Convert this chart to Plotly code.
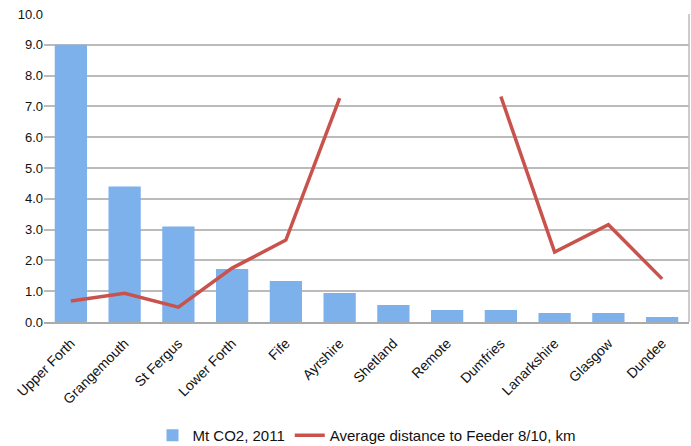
import plotly.graph_objects as go

categories = ["Upper Forth", "Grangemouth", "St Fergus", "Lower Forth", "Fife", "Ayrshire",
              "Shetland", "Remote", "Dumfries", "Lanarkshire", "Glasgow", "Dundee"]
co2_mt = [9.0, 4.4, 3.1, 1.72, 1.33, 0.94, 0.55, 0.39, 0.39, 0.29, 0.29, 0.16]
avg_distance = [0.68, 0.93, 0.48, 1.75, 2.66, 7.27, None, None, 7.32, 2.27, 3.16, 1.4]
y_ticks = [0, 1, 2, 3, 4, 5, 6, 7, 8, 9, 10]

fig = go.Figure()
fig.add_trace(go.Bar(
    x=categories, y=co2_mt, name="Mt CO2, 2011",
    marker=dict(color="#7DB1EC", line=dict(width=0)),
))
fig.add_trace(go.Scatter(
    x=categories, y=avg_distance, name="Average distance to Feeder 8/10, km",
    mode="lines", line=dict(color="#C9534C", width=3.5), connectgaps=False,
))

fig.update_layout(
    width=691, height=446,
    margin=dict(l=44, r=2, t=14, b=124, autoexpand=False),
    paper_bgcolor="white", plot_bgcolor="white",
    font=dict(family="Liberation Sans, Arial, sans-serif", size=13, color="#111111"),
    bargap=0.4,
    showlegend=True,
    legend=dict(orientation="h", x=0.5, xanchor="center", y=-0.315, yanchor="top",
                font=dict(size=15), itemwidth=30),
    xaxis=dict(tickangle=-45, showgrid=False, showline=True, linecolor="#AAAAAA",
               linewidth=1.5, ticks="", tickfont=dict(size=14), automargin=False,
               ticklabelstandoff=6),
    yaxis=dict(range=[0, 10], tickvals=y_ticks, tickformat=".1f", showgrid=True,
               gridcolor="#BBBBBB", gridwidth=1.5, zeroline=False, ticks="",
               tickfont=dict(size=13), automargin=False),
)
fig.add_shape(type="line", xref="paper", yref="paper", x0=1, x1=1, y0=0, y1=1,
              line=dict(color="#BBBBBB", width=1.5))

fig.write_html("out.html", config={"displayModeBar": False},
               post_script="document.body.style.margin='0';")
